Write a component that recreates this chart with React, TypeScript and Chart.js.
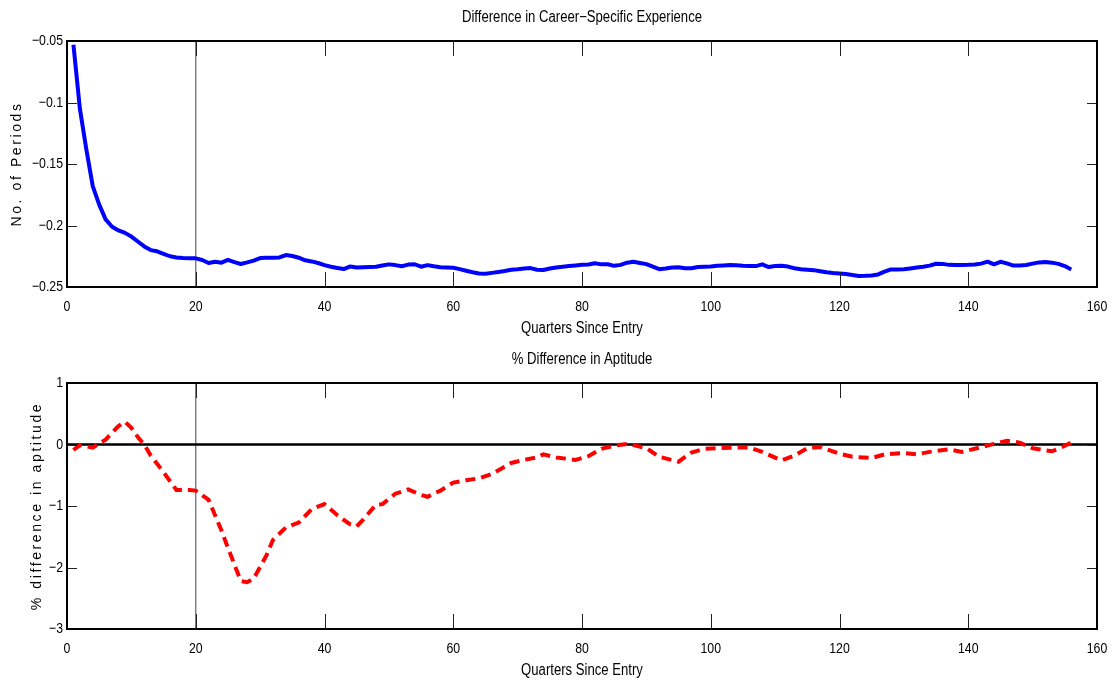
import React, { useEffect, useRef } from "react";
import Chart from "chart.js/auto";

// quarters since entry (x) for the career-experience series
const quarters = Array.from({ length: 156 }, (_, i) => i + 1);

// difference in career-specific experience, no. of periods
const careerExpDiff = [
	-0.053, -0.105, -0.138, -0.168, -0.183, -0.195, -0.201, -0.204, -0.206, -0.209,
	-0.213, -0.217, -0.22, -0.221, -0.223, -0.225, -0.226, -0.2265, -0.2267, -0.2267,
	-0.228, -0.2305, -0.2295, -0.2302, -0.228, -0.2298, -0.2313, -0.23, -0.2285, -0.2265,
	-0.2262, -0.2262, -0.226, -0.224, -0.2248, -0.2262, -0.2283, -0.2292, -0.2305, -0.2322,
	-0.2335, -0.2345, -0.2354, -0.2333, -0.2342, -0.234, -0.2338, -0.2336, -0.2325, -0.2316,
	-0.2322, -0.2331, -0.2318, -0.2315, -0.2335, -0.2322, -0.2332, -0.234, -0.2342, -0.2344,
	-0.2355, -0.2368, -0.238, -0.239, -0.2393, -0.2385, -0.2378, -0.237, -0.236, -0.2356,
	-0.235, -0.2346, -0.236, -0.2362, -0.235, -0.2342, -0.2335, -0.233, -0.2325, -0.232,
	-0.2317, -0.2307, -0.2316, -0.2315, -0.2328, -0.232, -0.2302, -0.2295, -0.2305, -0.2314,
	-0.2335, -0.2355, -0.235, -0.2342, -0.234, -0.2348, -0.2348, -0.2337, -0.2335, -0.2333,
	-0.2328, -0.2325, -0.2321, -0.2324, -0.2328, -0.233, -0.233, -0.2316, -0.2338, -0.233,
	-0.2328, -0.2334, -0.2348, -0.2356, -0.236, -0.2363, -0.2372, -0.238, -0.2386, -0.239,
	-0.2395, -0.2402, -0.241, -0.2409, -0.2406, -0.2398, -0.2375, -0.2357, -0.2357, -0.2356,
	-0.2349, -0.2342, -0.2335, -0.2326, -0.2311, -0.2312, -0.232, -0.2321, -0.2321, -0.232,
	-0.2317, -0.231, -0.2294, -0.2316, -0.2295, -0.2308, -0.2326, -0.2326, -0.2321, -0.231,
	-0.23, -0.2297, -0.2302, -0.2312, -0.233, -0.2357,
];

// % difference in aptitude, read at the bends of the dashed line
const aptQuarters = [
	1, 2, 4, 6, 8, 9, 10, 11, 12, 13, 15, 17, 19, 20, 22, 24, 25, 27, 28, 29,
	31, 32, 34, 36, 38, 40, 42, 44, 45, 46, 48, 49, 51, 53, 55, 56, 58, 60, 62, 64,
	66, 69, 71, 73, 74, 76, 79, 81, 83, 85, 87, 88, 90, 92, 95, 97, 99, 101, 104, 106,
	108, 111, 113, 115, 117, 120, 122, 125, 127, 130, 132, 134, 137, 139, 141, 144, 146, 148, 150, 153,
	154, 156,
];
const aptDiffPct = [
	-0.09, -0.01, -0.05, 0.08, 0.3, 0.37, 0.27, 0.12, 0.0, -0.18, -0.45, -0.74, -0.74, -0.75, -0.9, -1.4, -1.68, -2.22, -2.24, -2.18,
	-1.8, -1.55, -1.35, -1.27, -1.05, -0.97, -1.15, -1.3, -1.33, -1.22, -0.98, -0.97, -0.8, -0.73, -0.82, -0.85, -0.75, -0.62, -0.58, -0.55,
	-0.48, -0.3, -0.25, -0.21, -0.16, -0.21, -0.25, -0.19, -0.07, -0.02, 0.01, -0.01, -0.06, -0.2, -0.28, -0.13, -0.07, -0.06, -0.05, -0.05,
	-0.12, -0.26, -0.18, -0.06, -0.04, -0.15, -0.2, -0.22, -0.16, -0.14, -0.16, -0.12, -0.08, -0.12, -0.07, 0.01, 0.06, 0.03, -0.06, -0.11,
	-0.07, 0.03,
];

const xRange = [0, 160];
const xStep = 20;
const expRange = [-0.25, -0.05];
const expStep = 0.05;
const aptRange = [-3, 1];
const aptStep = 1;
const entryQuarter = 20;
const xTitle = "Quarters Since Entry";

const SANS = '"Liberation Sans", Arial, sans-serif';
const SQUEEZE = 0.82; // no narrow face installed, so squeeze the regular one

const fmt = (v: number, dp: number) => {
	const s = String(+Math.abs(v).toFixed(dp));
	return v < -1e-9 ? "\u2212" + s : s;
};

function narrowText(ctx: any, text: string, x: number, y: number, align: string) {
	ctx.save();
	ctx.translate(x, y);
	ctx.scale(SQUEEZE, 1);
	ctx.textAlign = align;
	ctx.fillText(text, 0, 0);
	ctx.restore();
}

// matlab-ish box with inward ticks, tick labels and titles
const axesFrame = {
	id: "axesFrame",
	afterDraw(chart: any, _args: any, opts: any) {
		const { ctx, chartArea: a } = chart;
		const xs = chart.scales.x;
		const ys = chart.scales.y;
		ctx.save();
		ctx.strokeStyle = "#222";
		ctx.lineWidth = 1;
		ctx.beginPath();
		xs.ticks.forEach((t: any) => {
			const px = Math.round(xs.getPixelForValue(t.value)) + 0.5;
			ctx.moveTo(px, a.bottom);
			ctx.lineTo(px, a.bottom - 15);
			ctx.moveTo(px, a.top);
			ctx.lineTo(px, a.top + 15);
		});
		ys.ticks.forEach((t: any) => {
			const py = Math.round(ys.getPixelForValue(t.value)) + 0.5;
			ctx.moveTo(a.left, py);
			ctx.lineTo(a.left + 10, py);
			ctx.moveTo(a.right, py);
			ctx.lineTo(a.right - 10, py);
		});
		ctx.stroke();
		ctx.strokeStyle = "#000";
		ctx.lineWidth = 2;
		ctx.strokeRect(a.left, a.top, a.right - a.left, a.bottom - a.top);

		ctx.fillStyle = "#000";
		ctx.textBaseline = "middle";
		ctx.font = `15px ${SANS}`;
		xs.ticks.forEach((t: any) => {
			narrowText(ctx, fmt(t.value, 0), xs.getPixelForValue(t.value), a.bottom + 19.5, "center");
		});
		ys.ticks.forEach((t: any) => {
			narrowText(ctx, fmt(t.value, opts.yDp), a.left - 4, ys.getPixelForValue(t.value), "right");
		});
		ctx.font = `16px ${SANS}`;
		const cx = (a.left + a.right) / 2;
		narrowText(ctx, opts.title, cx, a.top - 23, "center");
		narrowText(ctx, xTitle, cx, a.bottom + 42, "center");

		ctx.translate(opts.yLabelX, (a.top + a.bottom) / 2);
		ctx.rotate(-Math.PI / 2);
		ctx.font = `14px ${SANS}`;
		ctx.letterSpacing = "2.6px";
		ctx.textAlign = "center";
		ctx.fillText(opts.yLabel, 0, 0);
		ctx.restore();
	},
};

function Panel({ title, datasets, yRange, yStep, yDp, yLabel, yLabelX }: any) {
	const chartRef = useRef<HTMLCanvasElement>(null);
	const chartInstance = useRef<Chart | null>(null);

	useEffect(() => {
		if (chartInstance.current) {
			chartInstance.current.destroy();
			chartInstance.current = null;
		}
		const ctx = chartRef.current?.getContext("2d");
		if (!ctx) return;

		chartInstance.current = new Chart(ctx, {
			type: "line",
			data: { datasets },
			options: {
				responsive: false,
				animation: false,
				events: [],
				layout: { padding: { left: 0, right: 18, top: 41, bottom: 0 } },
				elements: { point: { radius: 0 }, line: { tension: 0 } },
				plugins: {
					legend: { display: false },
					tooltip: { enabled: false },
					title: { display: false },
					axesFrame: { title, yDp, yLabel, yLabelX },
				} as any,
				scales: {
					x: {
						type: "linear",
						min: xRange[0],
						max: xRange[1],
						grid: { display: false, drawTicks: false },
						border: { display: false },
						ticks: { stepSize: xStep, display: false, autoSkip: false },
						afterFit: (s: any) => {
							s.height = 55;
						},
					},
					y: {
						type: "linear",
						min: yRange[0],
						max: yRange[1],
						grid: { display: false, drawTicks: false },
						border: { display: false },
						ticks: { stepSize: yStep, display: false, autoSkip: false },
						afterFit: (s: any) => {
							s.width = 67;
						},
					},
				},
			} as any,
			plugins: [axesFrame],
		});

		return () => {
			if (chartInstance.current) {
				chartInstance.current.destroy();
				chartInstance.current = null;
			}
		};
	}, [title, datasets, yRange, yStep, yDp, yLabel, yLabelX]);

	return <canvas ref={chartRef} width={1115} height={342} style={{ display: "block" }}></canvas>;
}

const entryLine = (yr: number[]) => ({
	data: [
		{ x: entryQuarter, y: yr[0] },
		{ x: entryQuarter, y: yr[1] },
	],
	borderColor: "#666",
	borderWidth: 1.2,
	order: 2,
});

const topDatasets = [
	{
		data: quarters.map((q, i) => ({ x: q, y: careerExpDiff[i] })),
		borderColor: "#0000ff",
		borderWidth: 4,
		borderJoinStyle: "round",
		order: 0,
	},
	entryLine(expRange),
];

const bottomDatasets = [
	{
		data: aptQuarters.map((q, i) => ({ x: q, y: aptDiffPct[i] })),
		borderColor: "#ff0000",
		borderWidth: 4,
		borderDash: [10, 6],
		borderCapStyle: "butt",
		order: 0,
	},
	{
		data: [
			{ x: xRange[0], y: 0 },
			{ x: xRange[1], y: 0 },
		],
		borderColor: "#000",
		borderWidth: 2.5,
		order: 1,
	},
	entryLine(aptRange),
];

export default function App() {
	return (
		<div style={{ position: "absolute", left: 0, top: 0, width: 1115, height: 685, background: "#fff" }}>
			<Panel
				title={"Difference in Career\u2212Specific Experience"}
				datasets={topDatasets}
				yRange={expRange}
				yStep={expStep}
				yDp={2}
				yLabel="No. of Periods"
				yLabelX={17.5}
			/>
			<Panel
				title="% Difference in Aptitude"
				datasets={bottomDatasets}
				yRange={aptRange}
				yStep={aptStep}
				yDp={0}
				yLabel="% difference in aptitude"
				yLabelX={36.7}
			/>
		</div>
	);
}
